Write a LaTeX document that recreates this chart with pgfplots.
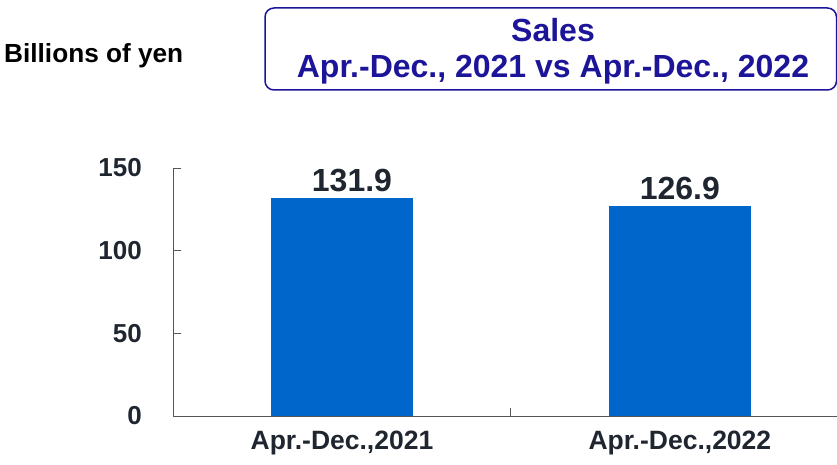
\documentclass[border=0pt]{standalone}
\usepackage{fontspec}
\setmainfont{Liberation Sans}
\usepackage{pgfplots}
\pgfplotsset{compat=1.18}
\definecolor{barblue}{HTML}{0066CC}
\definecolor{titleblue}{HTML}{1C1499}
\definecolor{labeldark}{HTML}{1F2630}
\definecolor{axisgray}{HTML}{555555}

\begin{document}
\begin{tikzpicture}[x=1pt,y=1pt]
\useasboundingbox (0,0) rectangle (837,464);
% title box
\draw[titleblue, line width=1.5pt, rounded corners=9pt] (265,374) rectangle (836.5,456);
\node[titleblue, font=\fontsize{32}{36}\selectfont\bfseries, inner sep=0pt] at (553,434) {Sales};
\node[titleblue, font=\fontsize{32}{36}\selectfont\bfseries, inner sep=0pt] at (553,394) {Apr.-Dec., 2021 vs Apr.-Dec., 2022};
\node[black, font=\fontsize{26.2}{30}\selectfont\bfseries, anchor=west, inner sep=0pt] at (4,408) {Billions of yen};

\begin{axis}[
    at={(173pt,48pt)}, anchor=south west,
    scale only axis, width=664pt, height=248pt,
    xmin=-0.5, xmax=1.465, ymin=0, ymax=150,
    axis x line*=bottom, axis y line*=left,
    axis line style={axisgray, line width=1pt},
    ytick={0,50,100,150},
    xtick={0.5}, xticklabels={},
    tick style={axisgray, line width=1pt},
    xtick style={yshift=8pt},
    major tick length=8pt,
    tick align=inside,
    extra x ticks={0,1},
    extra x tick labels={{Apr.-Dec.,2021}, {Apr.-Dec.,2022}},
    extra x tick style={major tick length=0pt},
    /pgf/number format/assume math mode=true,
    yticklabel style={font=\fontsize{26}{30}\selectfont\bfseries, text=labeldark, inner sep=0pt, xshift=-31pt},
    xticklabel style={font=\fontsize{26.5}{30}\selectfont\bfseries, text=labeldark, inner sep=0pt, yshift=-15pt},
    ybar, bar width=142pt, bar shift=0pt,
    point meta=explicit symbolic,
    nodes near coords,
    every node near coord/.append style={font=\fontsize{32}{36}\selectfont\bfseries, text=labeldark, anchor=south, inner sep=0pt, yshift=6pt},
]
\addplot[fill=barblue, draw=none, every node near coord/.append style={xshift=10pt}] coordinates {(0,131.9)[131.9]};
\addplot[fill=barblue, draw=none] coordinates {(1,126.9)[126.9]};
\end{axis}
\end{tikzpicture}
\end{document}
